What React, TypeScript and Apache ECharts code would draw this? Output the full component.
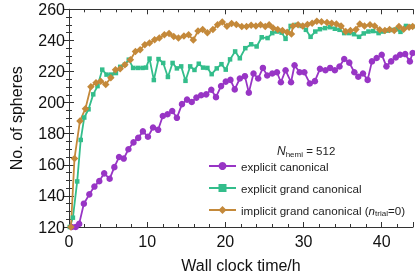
import React, { useEffect, useRef } from "react";
import * as echarts from "echarts";

const canonicalTime = [0.35,0.85,1.3,1.9,2.6,3.25,3.87,4.5,5.2,5.8,6.4,7.0,7.6,8.25,8.85,9.45,10.1,10.75,11.4,12.0,12.6,13.2,13.8,14.45,15.1,15.7,16.3,16.9,17.55,18.2,18.8,19.45,20.05,20.65,21.2,21.85,22.5,23.0,23.6,24.2,24.8,25.35,26.0,26.6,27.1,27.7,28.4,28.85,29.5,30.1,30.8,31.45,32.1,32.8,33.4,34.0,34.6,35.2,35.85,36.5,37.0,37.6,38.2,38.75,39.35,40.0,40.6,41.2,41.8,42.35,43.0,43.6,43.95];
const canonicalCount = [120,120,122,135,141,146,149.5,154.5,151,158.5,165,164,170,174.4,177.3,181.5,178,184,182.5,191.4,192.5,194.6,190.2,199,201.9,200.4,203.2,204.7,205.3,208.3,203.5,210.6,213.5,214.6,208.5,215.5,217,206.4,218.7,215.5,222.3,217.4,218.7,219.5,213.1,220.8,213.1,224,219.5,219.5,212.3,213.8,221.7,220.8,222.3,220.8,223.2,228,225.7,219.5,216.6,218.7,214.6,226.5,228.7,230.8,223.3,226.5,229,230.8,231.2,226.5,231.9];

const grandTime = [0.1,0.5,1.05,1.5,1.95,2.5,3.1,3.65,4.25,4.8,5.4,6.0,6.55,7.15,7.65,8.2,8.8,9.4,9.85,10.3,10.85,11.45,12.05,12.65,13.25,13.8,14.35,14.9,15.5,16.05,16.6,17.15,17.7,18.25,18.9,19.5,20.05,20.6,21.25,21.85,22.55,23.3,24.0,24.65,25.4,26.0,26.6,27.2,27.7,28.35,29.1,29.75,30.3,30.9,31.5,32.1,32.75,33.4,34.0,34.6,35.2,35.8,36.45,37.1,37.7,38.3,38.9,39.6,40.2,40.8,41.4,42.0,42.4,43.1,43.9];
const grandCount = [120,126,149.3,176,190.4,195.7,205.3,210.6,221.2,218,218,219,223,224.4,227.6,222.3,222.3,222.3,222.5,228.3,214.5,228,225.5,216.5,225.5,222,223.3,214,223.3,221,225,222.5,222.3,218.3,222,224.7,221.2,227.8,232.9,228.5,235,237.5,236.1,242,241.5,244.7,245.7,245,241,249.3,250,249.3,246.8,242.3,245.7,247.2,247.9,248.5,247.5,246.8,244.7,244.7,244,242.3,244.5,245.7,246,244.7,245.7,246.3,246.7,247.2,245.5,249.3,248.8];

const implicitTime = [0.25,0.7,1.4,2.1,2.8,3.45,4.05,4.7,5.35,5.95,6.55,7.15,7.85,8.5,9.1,9.7,10.3,10.95,11.55,12.2,12.8,13.4,14.0,14.7,15.3,15.9,16.5,17.1,17.7,18.4,19.0,19.6,20.2,20.8,21.4,22.1,22.7,23.3,23.9,24.5,25.1,25.6,26.1,26.7,27.3,27.9,28.45,28.65,29.3,29.9,30.5,31.1,31.7,32.3,33.0,33.6,34.2,34.8,35.4,36.0,36.7,37.2,37.8,38.5,39.1,39.75,40.4,41.0,41.6,42.2,42.8,43.5,43.95];
const implicitCount = [120,164,188.2,196.1,210.2,212.7,213.8,211.7,216,221.2,221.7,224.4,227.6,232.9,234,237.2,238.3,240.4,241.5,243.6,244.5,242.5,241.5,242.8,243.6,240.3,246,247,244.9,247,250,251.8,249.1,250.8,250.3,249,248.9,249.7,249.3,250,248.9,250,247.9,247,246.3,245.2,244.1,249.3,250,249.3,250.2,251,252.3,252,251.5,251,250.6,249.3,245.7,246.3,247,250.6,249.3,250,249.3,246.8,246.3,247,246.3,249,247.2,248.5,249];

const seriesNames = ["explicit canonical", "explicit grand canonical", "implicit grand canonical (ntrial=0)"];
const xTicks = { min: 0, max: 44, interval: 10 };
const yTicks = { min: 120, max: 260, interval: 20 };

const zip = (t: number[], v: number[]) => t.map((x, i) => [x, v[i]]);

const FONT = "'Liberation Sans', Arial, sans-serif";
const AXIS_COLOR = "#333";

export default function App() {
  const ref = useRef<HTMLDivElement>(null);
  useEffect(() => {
    if (!ref.current) return;
    const chart = echarts.init(ref.current, undefined, { renderer: "svg" });
    const baseAxis = {
      axisLine: { show: true, lineStyle: { color: AXIS_COLOR, width: 1 } },
      axisTick: { show: true, inside: true, length: 5, lineStyle: { color: AXIS_COLOR } },
      minorTick: { show: true, length: 3, lineStyle: { color: AXIS_COLOR } },
      splitLine: { show: false },
    };
    const xCommon = { type: "value", min: xTicks.min, max: xTicks.max, interval: xTicks.interval };
    const yCommon = { type: "value", min: yTicks.min, max: yTicks.max, interval: yTicks.interval };
    const lineSeries = (name: string, data: number[][], color: string, symbol: string, size: number) => ({
      name,
      type: "line",
      data,
      symbol,
      symbolSize: size,
      showAllSymbol: true,
      lineStyle: { color, width: 1.8 },
      itemStyle: { color },
      xAxisIndex: 0,
      yAxisIndex: 0,
    });
    chart.setOption({
      animation: false,
      textStyle: { fontFamily: FONT },
      grid: { left: 56.3, right: 2, top: 9.3, bottom: 49.5, containLabel: false },
      title: {
        text: "{i|N}{s|hemi}{a| = 512}",
        left: 277,
        top: 144,
        padding: 0,
        textStyle: {
          fontWeight: "normal",
          rich: {
            i: { fontStyle: "italic", fontWeight: "normal", fontSize: 12, color: "#222", fontFamily: FONT },
            s: { fontSize: 8, fontWeight: "normal", color: "#222", fontFamily: FONT, verticalAlign: "bottom", padding: [6, 0, 0, 0] },
            a: { fontSize: 11.5, fontWeight: "normal", color: "#222", fontFamily: FONT },
          },
        },
      },
      legend: {
        orient: "vertical",
        left: 208,
        top: 160,
        padding: 0,
        itemWidth: 27,
        itemHeight: 10,
        itemGap: 10,
        data: seriesNames,
        textStyle: {
          fontSize: 11.6,
          color: "#222",
          fontFamily: FONT,
          rich: {
            a: { fontSize: 11.6, color: "#222", fontFamily: FONT },
            i: { fontSize: 11.6, color: "#222", fontFamily: FONT, fontStyle: "italic" },
            s: { fontSize: 8, color: "#222", fontFamily: FONT, verticalAlign: "bottom", padding: [6, 0, 0, 0] },
          },
        },
        formatter: (name: string) =>
          name === seriesNames[2] ? "{a|implicit grand canonical (}{i|n}{s|trial}{a|=0)}" : name,
      },
      xAxis: [
        {
          ...xCommon,
          ...baseAxis,
          position: "bottom",
          minorTick: { ...baseAxis.minorTick, splitNumber: 5 },
          name: "Wall clock time/h",
          nameLocation: "middle",
          nameGap: 30,
          nameTextStyle: { fontSize: 16, color: "#111", fontFamily: FONT },
          axisLabel: { fontSize: 16, color: "#111", margin: 6, fontFamily: FONT, showMaxLabel: false },
        },
        {
          ...xCommon,
          ...baseAxis,
          position: "top",
          minorTick: { ...baseAxis.minorTick, splitNumber: 5 },
          axisLabel: { show: false },
        },
      ],
      yAxis: [
        {
          ...yCommon,
          ...baseAxis,
          position: "left",
          minorTick: { ...baseAxis.minorTick, splitNumber: 4 },
          name: "No. of spheres",
          nameLocation: "middle",
          nameGap: 45,
          nameTextStyle: { fontSize: 16, color: "#111", fontFamily: FONT },
          axisLabel: { fontSize: 16, color: "#111", margin: 4, fontFamily: FONT },
        },
        {
          ...yCommon,
          ...baseAxis,
          position: "right",
          minorTick: { ...baseAxis.minorTick, splitNumber: 4 },
          axisLabel: { show: false },
        },
      ],
      series: [
        lineSeries(seriesNames[0], zip(canonicalTime, canonicalCount), "#9835c5", "circle", 6.5),
        lineSeries(seriesNames[1], zip(grandTime, grandCount), "#33bd8b", "rect", 4.5),
        lineSeries(seriesNames[2], zip(implicitTime, implicitCount), "#c4893a", "diamond", 7.5),
      ],
    });
    return () => chart.dispose();
  }, []);
  return <div ref={ref} style={{ position: "fixed", left: 0, top: 0, width: 415, height: 278 }} />;
}
